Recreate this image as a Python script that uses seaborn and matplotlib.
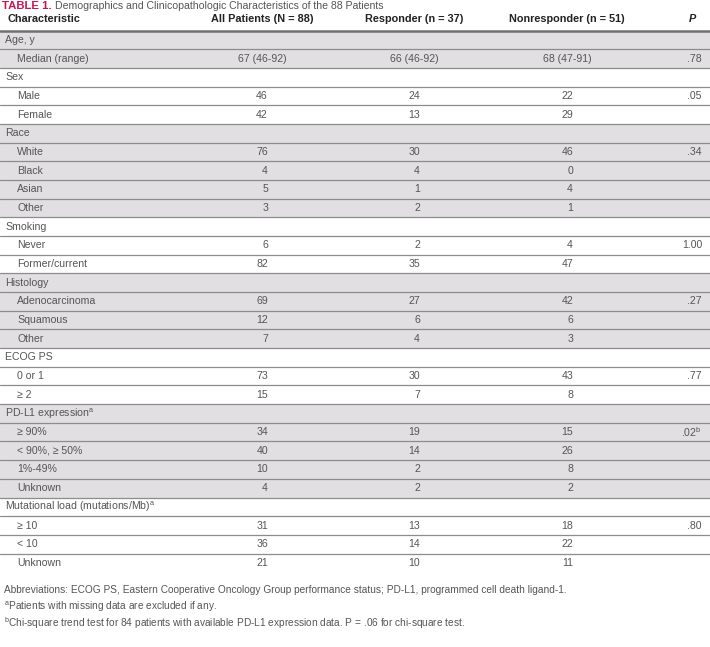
import matplotlib
matplotlib.use("Agg")
import matplotlib.pyplot as plt
import seaborn as sns

sns.set_style("white")
plt.rcParams['font.family'] = ['Liberation Sans', 'DejaVu Sans']
plt.rcParams['mathtext.fontset'] = 'custom'
plt.rcParams['mathtext.rm'] = 'Liberation Sans'

# table content
col_headers = ['Characteristic', 'All Patients (N = 88)', 'Responder (n = 37)', 'Nonresponder (n = 51)', 'P']
labels = ['Age, y', 'Median (range)',
          'Sex', 'Male', 'Female',
          'Race', 'White', 'Black', 'Asian', 'Other',
          'Smoking', 'Never', 'Former/current',
          'Histology', 'Adenocarcinoma', 'Squamous', 'Other',
          'ECOG PS', '0 or 1', '≥ 2',
          'PD-L1 expression$^{\\rm a}$', '≥ 90%', '< 90%, ≥ 50%', '1%-49%', 'Unknown',
          'Mutational load (mutations/Mb)$^{\\rm a}$', '≥ 10', '< 10', 'Unknown']
is_group = [1, 0,
            1, 0, 0,
            1, 0, 0, 0, 0,
            1, 0, 0,
            1, 0, 0, 0,
            1, 0, 0,
            1, 0, 0, 0, 0,
            1, 0, 0, 0]
all_patients = ['', '67 (46-92)',
                '', '46', '42',
                '', '76', '4', '5', '3',
                '', '6', '82',
                '', '69', '12', '7',
                '', '73', '15',
                '', '34', '40', '10', '4',
                '', '31', '36', '21']
responder = ['', '66 (46-92)',
             '', '24', '13',
             '', '30', '4', '1', '2',
             '', '2', '35',
             '', '27', '6', '4',
             '', '30', '7',
             '', '19', '14', '2', '2',
             '', '13', '14', '10']
nonresponder = ['', '68 (47-91)',
                '', '22', '29',
                '', '46', '0', '4', '1',
                '', '4', '47',
                '', '42', '6', '3',
                '', '43', '8',
                '', '15', '26', '8', '2',
                '', '18', '22', '11']
p_values = ['', '.78',
            '', '.05', '',
            '', '.34', '', '', '',
            '', '1.00', '',
            '', '.27', '', '',
            '', '.77', '',
            '', '.02$^{\\rm b}$', '', '', '',
            '', '.80', '', '']
shaded_groups = [1, 0, 1, 0, 1, 0, 1, 0]
footnotes = ['Abbreviations: ECOG PS, Eastern Cooperative Oncology Group performance status; PD-L1, programmed cell death ligand-1.',
             '$^{\\rm a}$Patients with missing data are excluded if any.',
             '$^{\\rm b}$Chi-square trend test for 84 patients with available PD-L1 expression data. P = .06 for chi-square test.']

W, H = 710, 647
fig = plt.figure(figsize=(W / 100, H / 100), dpi=100)
ax = fig.add_axes([0, 0, 1, 1])
ax.set_xlim(0, W)
ax.set_ylim(H, 0)
ax.axis('off')

text_c = '#555555'
head_c = '#222222'
shade_c = '#e1dfe1'
line_c = '#8c8c8c'
fs = 7.6

top = 30.5
pitch = 18.68
col_x = [262, 414, 567]
p_right = 702

# shading per group
g = -1
for i, grp in enumerate(is_group):
    if grp:
        g += 1
    if shaded_groups[g]:
        ax.axhspan(top + i * pitch, top + (i + 1) * pitch, color=shade_c, lw=0, zorder=0)

# row lines
for i in range(1, len(labels)):
    ax.axhline(top + i * pitch, color=line_c, lw=0.9, zorder=1)
ax.axhline(top, color='#707070', lw=1.8, zorder=2)

# title
t1 = ax.text(2, 6, 'TABLE 1.', color='#c8174f', fontsize=8.2, fontweight='bold', va='center')
fig.canvas.draw()
bb = t1.get_window_extent().transformed(ax.transData.inverted())
ax.text(bb.x1 + 3, 6, 'Demographics and Clinicopathologic Characteristics of the 88 Patients',
        color=text_c, fontsize=fs, va='center')

# header
hy = 19.5
hdr = dict(color=head_c, fontsize=7.8, fontweight='bold', va='center',
           family=['Liberation Sans Narrow', 'Liberation Sans'])
ax.text(7, hy, col_headers[0], ha='left', **hdr)
for x, h in zip(col_x, col_headers[1:4]):
    ax.text(x, hy, h, ha='center', **hdr)
ax.text(692, hy, col_headers[4], ha='center', style='italic', **hdr)

# body
for i, lab in enumerate(labels):
    y = top + (i + 0.5) * pitch
    ax.text(5 if is_group[i] else 17, y, lab, ha='left', va='center', color=text_c, fontsize=fs)
    for x, vals in zip(col_x, [all_patients, responder, nonresponder]):
        v = vals[i]
        if not v:
            continue
        if v.isdigit():
            ax.text(x + 6, y, v, ha='right', va='center', color=text_c, fontsize=fs)
        else:
            ax.text(x, y, v, ha='center', va='center', color=text_c, fontsize=fs)
    if p_values[i]:
        ax.text(p_right, y, p_values[i], ha='right', va='center', color=text_c, fontsize=fs)

# footnotes
fy = top + len(labels) * pitch + 18
for k, note in enumerate(footnotes):
    ax.text(4, fy + k * 16.5, note, ha='left', va='center', color=text_c, fontsize=7.3)

fig.savefig('out.png', dpi=100)
